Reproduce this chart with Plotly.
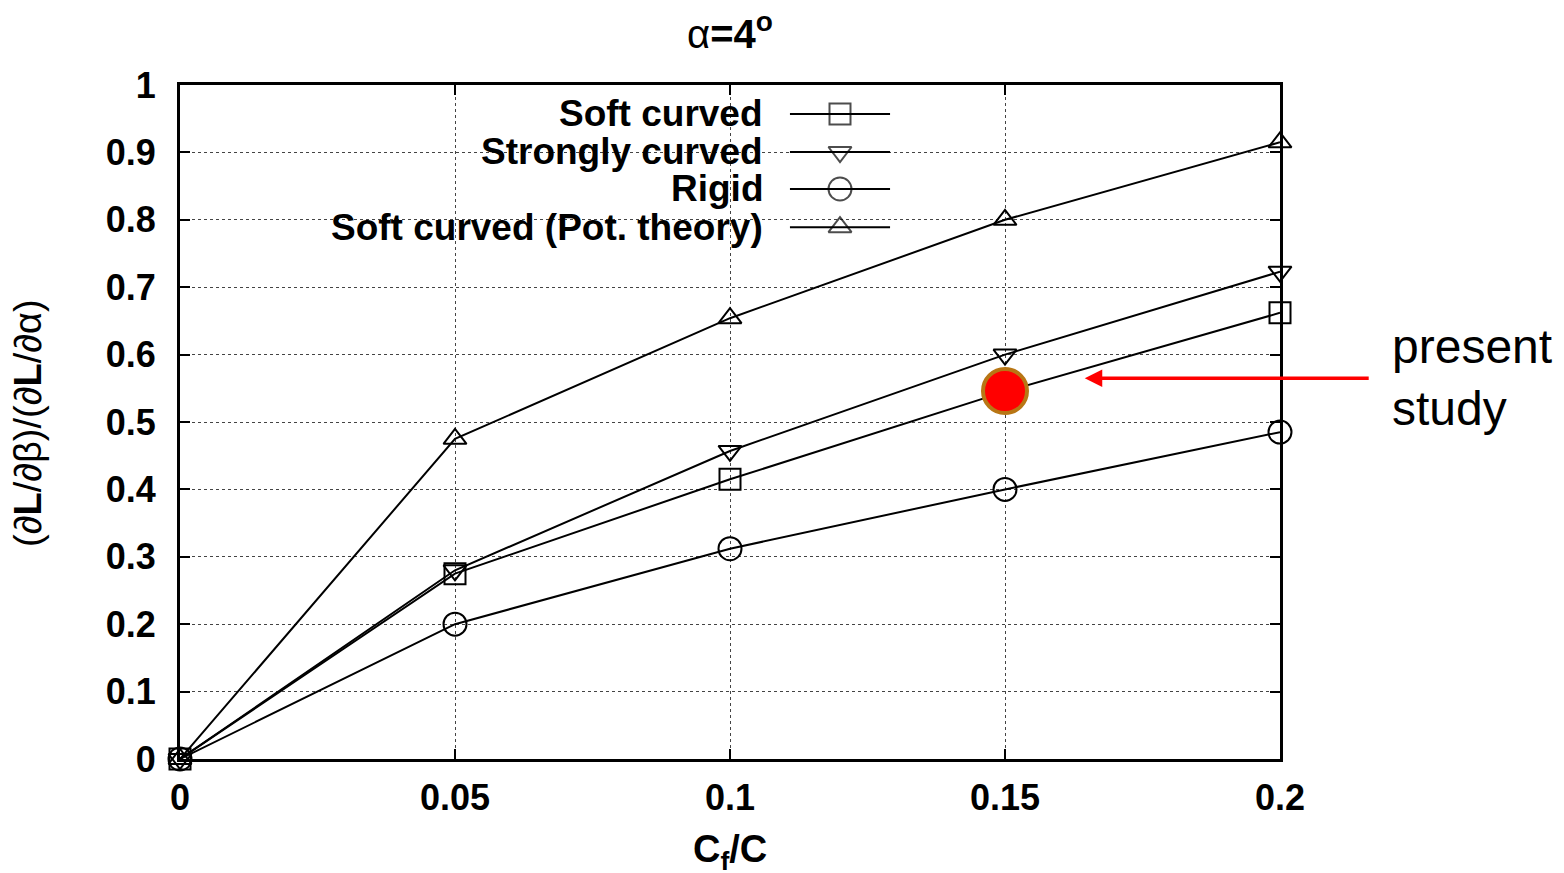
import plotly.graph_objects as go

# ---- data ----
cf_c = [0, 0.05, 0.1, 0.15, 0.2]
soft_curved = [0, 0.275, 0.415, 0.545, 0.662]
strongly_curved = [0, 0.28, 0.457, 0.60, 0.723]
rigid = [0, 0.20, 0.312, 0.40, 0.485]
pot_theory = [0, 0.475, 0.654, 0.80, 0.915]
present_x = [0.15]
present_y = [0.546]

series_names = ["Soft curved", "Strongly curved", "Rigid", "Soft curved (Pot. theory)"]
series_values = [soft_curved, strongly_curved, rigid, pot_theory]
series_symbols = ["square-open", "triangle-down-open", "circle-open", "triangle-up-open"]
series_sizes = [21, 20, 23, 20]

x_ticks = [0, 0.05, 0.1, 0.15, 0.2]
x_ticklabels = ["0", "0.05", "0.1", "0.15", "0.2"]
y_ticks = [0, 0.1, 0.2, 0.3, 0.4, 0.5, 0.6, 0.7, 0.8, 0.9, 1]
y_ticklabels = ["0", "0.1", "0.2", "0.3", "0.4", "0.5", "0.6", "0.7", "0.8", "0.9", "1"]

BOLD = "Liberation Sans, Arial"
REG = "Liberation Sans, Arial"
W, H = 1556, 865   # page body has an 8px margin

fig = go.Figure()

for name, vals, sym, sz in zip(series_names, series_values, series_symbols, series_sizes):
    fig.add_trace(go.Scatter(
        x=cf_c, y=vals, mode="lines+markers", name=name, showlegend=False,
        line=dict(color="black", width=2),
        marker=dict(symbol=sym, size=sz, color="black", line=dict(width=2, color="black")),
        cliponaxis=False,
    ))

# present study point
fig.add_trace(go.Scatter(
    x=present_x, y=present_y, mode="markers", showlegend=False,
    marker=dict(symbol="circle", size=44, color="#ff0000",
                line=dict(width=4, color="rgb(184,118,20)")),
    cliponaxis=False,
))

# ---- custom legend (text left of sample, as gnuplot) ----
leg_rows_y = [0.957, 0.9006, 0.8457, 0.789]
leg_text_x = 0.532
leg_line_x0, leg_line_x1, leg_mark_x = 0.5545, 0.6455, 0.6
shapes = [dict(type="rect", xref="paper", yref="paper", x0=0.127, x1=0.664,
               y0=0.763, y1=0.99, fillcolor="white", line=dict(width=0), layer="between")]
annotations = []
for ry, name in zip(leg_rows_y, series_names):
    shapes.append(dict(type="line", xref="paper", yref="paper", x0=leg_line_x0, x1=leg_line_x1,
                       y0=ry, y1=ry, line=dict(color="black", width=2)))
    annotations.append(dict(xref="paper", yref="paper", x=leg_text_x, y=ry, text="<b>%s</b>" % name,
                            showarrow=False, xanchor="right", yanchor="middle",
                            font=dict(family=BOLD, size=37, color="black")))
fig.add_trace(go.Scatter(
    x=[leg_mark_x] * 4, y=leg_rows_y, xaxis="x2", yaxis="y2", mode="markers", showlegend=False,
    marker=dict(symbol=series_symbols, size=series_sizes, color="black", line=dict(width=2, color="black")),
))

# arrow + label
annotations.append(dict(x=0.1645, y=0.565, ax=0.2164, ay=0.565, xref="x", yref="y", axref="x", ayref="y",
                        text="", showarrow=True, arrowhead=2, arrowsize=1.0, arrowwidth=3.5,
                        arrowcolor="#ff0000"))
annotations.append(dict(xref="paper", yref="paper", x=(1390 - 180) / 1100, y=(759 - 377) / 674,
                        text="present<br>study", showarrow=False, xanchor="left", yanchor="middle",
                        align="left", font=dict(family=REG, size=48, color="black")))

# y axis title as rotated annotation
annotations.append(dict(xref="paper", yref="paper", x=(28 - 180) / 1100, y=(759 - 423) / 674,
                        text="(∂<b>L</b>/∂β)/(∂<b>L</b>/∂α)", textangle=-90, showarrow=False,
                        xanchor="center", yanchor="middle",
                        font=dict(family=REG, size=38, color="black")))

# x axis title as annotation
annotations.append(dict(xref="paper", yref="paper", x=(730 - 180) / 1100, y=(759 - 852) / 674,
                        text="<b>C<sub>f</sub>/C</b>", showarrow=False, xanchor="center",
                        yanchor="middle", font=dict(family=BOLD, size=38, color="black")))

# title as annotation
annotations.append(dict(xref="paper", yref="paper", x=(730 - 180) / 1100, y=(759 - 31) / 674,
                        text="α<b>=4<sup>o</sup></b>", showarrow=False, xanchor="center",
                        yanchor="middle", font=dict(family=BOLD, size=40, color="black")))

fig.update_layout(
    width=W, height=H,
    margin=dict(l=172, r=284, t=77, b=114),
    paper_bgcolor="white", plot_bgcolor="white",
    xaxis=dict(range=[0, 0.2], tickvals=x_ticks, ticktext=["<b>%s</b>" % t for t in x_ticklabels],
               ticks="inside", ticklen=10, tickwidth=2, tickcolor="black", mirror="ticks",
               showline=True, linewidth=3, linecolor="black", ticklabelstandoff=5,
               showgrid=True, gridcolor="#444", griddash="dot", gridwidth=1, zeroline=False,
               tickfont=dict(family=BOLD, size=36, color="black"), automargin=False),
    yaxis=dict(range=[0, 1], tickvals=y_ticks, ticktext=["<b>%s</b>" % t for t in y_ticklabels],
               ticks="inside", ticklen=10, tickwidth=2, tickcolor="black", mirror="ticks",
               showline=True, linewidth=3, linecolor="black", ticklabelstandoff=14,
               showgrid=True, gridcolor="#444", griddash="dot", gridwidth=1, zeroline=False,
               tickfont=dict(family=BOLD, size=36, color="black"), automargin=False),
    xaxis2=dict(range=[0, 1], overlaying="x", visible=False, anchor="y2"),
    yaxis2=dict(range=[0, 1], overlaying="y", visible=False, anchor="x2"),
    shapes=shapes, annotations=annotations,
)

fig.write_html("out.html")
